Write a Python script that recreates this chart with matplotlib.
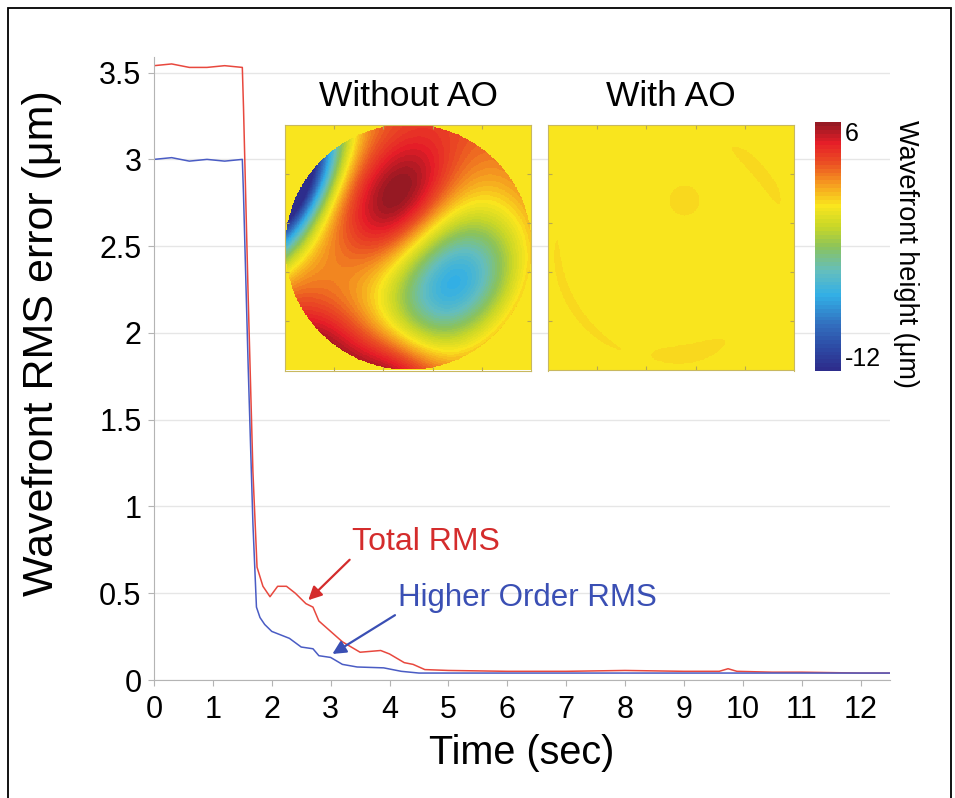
import numpy as np
import matplotlib
matplotlib.use("Agg")
from matplotlib import pyplot as plt
from matplotlib.colors import LinearSegmentedColormap
from matplotlib.patches import Rectangle

plt.rcParams['font.family'] = ['Liberation Sans', 'DejaVu Sans']

# RMS traces (time in s, RMS in um)
total_t = [0, 0.3, 0.6, 0.9, 1.2, 1.5, 1.52, 1.6, 1.68, 1.75, 1.85, 1.97, 2.1, 2.25, 2.4, 2.58,
           2.7, 2.8, 3.0, 3.2, 3.5, 3.85, 4.0, 4.25, 4.4, 4.6, 5.0, 6.0, 7.0, 8.0, 9.0,
           9.6, 9.75, 9.9, 10.5, 11.0, 12.0, 12.5]
total_rms = [3.54, 3.55, 3.53, 3.53, 3.54, 3.53, 3.3, 2.2, 1.2, 0.65, 0.54, 0.48, 0.54, 0.54, 0.50, 0.44,
             0.42, 0.34, 0.28, 0.22, 0.16, 0.17, 0.15, 0.10, 0.09, 0.06, 0.055, 0.05, 0.05, 0.055, 0.05,
             0.05, 0.065, 0.05, 0.045, 0.045, 0.04, 0.04]

hoa_t = [0, 0.3, 0.6, 0.9, 1.2, 1.5, 1.52, 1.6, 1.68, 1.74, 1.8, 1.88, 2.0, 2.3, 2.5, 2.7,
         2.8, 3.0, 3.2, 3.45, 3.9, 4.2, 4.5, 5.0, 7.0, 9.0, 10.0, 11.0, 12.0, 12.5]
hoa_rms = [3.0, 3.01, 2.99, 3.0, 2.99, 3.0, 2.8, 1.8, 0.9, 0.42, 0.36, 0.32, 0.28, 0.24, 0.19, 0.18,
           0.14, 0.13, 0.09, 0.075, 0.07, 0.05, 0.04, 0.04, 0.04, 0.04, 0.04, 0.04, 0.04, 0.04]

y_ticks = [0, 0.5, 1, 1.5, 2, 2.5, 3, 3.5]
y_labels = ['0', '0.5', '1', '1.5', '2', '2.5', '3', '3.5']
x_ticks = list(range(13))

# wavefront without AO: rim height plus elliptical lobes
rim_height = 2.0
lobe_x = [-0.10, 0.38, -1.0, -0.75, -0.15]
lobe_y = [0.40, -0.30, 0.48, -0.85, -1.10]
lobe_long = [0.42, 0.42, 0.50, 0.30, 0.28]
lobe_short = [0.27, 0.30, 0.20, 0.30, 0.28]
lobe_ang = [55, 50, 63, 0, 0]
lobe_amp = [5.8, -7.0, -20.0, 3.5, 3.8]

# residual after AO: small dot and faint arcs near the pupil rim
dot_x, dot_y, dot_r = 0.11, 0.38, 0.08
arc_r = [0.95, 0.93, 0.88]
arc_theta = [40, 210, 280]
arc_span = [12, 22, 13]
arc_width = [0.04, 0.025, 0.05]
residual_amp = 0.3

# colour bar stops (-12 .. 6 um)
cbar_min, cbar_max = -12, 6
stop_pos = [0, 0.09, 0.18, 0.30, 0.40, 0.50, 0.58, 0.667, 0.76, 0.84, 0.92, 1.0]
stop_col = ['#2d2d8c', '#2d4ba5', '#326ebe', '#32afe6', '#64bebe', '#8cc35a',
            '#c8d728', '#fae61e', '#f59620', '#eb5023', '#e61e28', '#961923']

red = '#e8483e'
blue = '#4a5cc4'

n = 400
g = np.linspace(-1, 1, n)
xx, yy = np.meshgrid(g, g)
rr = np.hypot(xx, yy)
th = np.degrees(np.arctan2(yy, xx)) % 360
inside = rr <= 1

w_before = rim_height * rr ** 2
for x0, y0, l, s, ang, a in zip(lobe_x, lobe_y, lobe_long, lobe_short, lobe_ang, lobe_amp):
    t = np.deg2rad(ang)
    u = (xx - x0) * np.cos(t) + (yy - y0) * np.sin(t)
    v = -(xx - x0) * np.sin(t) + (yy - y0) * np.cos(t)
    w_before += a * np.exp(-0.5 * ((u / l) ** 2 + (v / s) ** 2))
w_before[~inside] = 0

w_after = residual_amp * np.exp(-0.5 * ((xx - dot_x) ** 2 + (yy - dot_y) ** 2) / dot_r ** 2)
for r0, t0, span, wd in zip(arc_r, arc_theta, arc_span, arc_width):
    dth = (th - t0 + 180) % 360 - 180
    w_after += residual_amp * np.exp(-0.5 * (((rr - r0) / wd) ** 2 + (dth / span) ** 2))
w_after[~inside] = 0

cmap = LinearSegmentedColormap.from_list('wf', list(zip(stop_pos, stop_col)), N=64)

fig = plt.figure(figsize=(9.55, 7.98), dpi=100)
ax = fig.add_axes([154 / 955, 1 - 680 / 798, (890 - 154) / 955, (680 - 57) / 798])

ax.plot(total_t, total_rms, color=red, lw=1.1)
ax.plot(hoa_t, hoa_rms, color=blue, lw=1.1)

ax.set_xlim(0, 12.5)
ax.set_ylim(0, 3.59)
ax.set_xticks(x_ticks)
ax.set_yticks(y_ticks)
ax.set_yticklabels(y_labels)
ax.grid(axis='y', color='#e6e6e6', lw=1)
ax.set_axisbelow(True)
for side in ['top', 'right']:
    ax.spines[side].set_visible(False)
for side in ['left', 'bottom']:
    ax.spines[side].set_color('#b4b4b4')
ax.tick_params(colors='#b4b4b4', labelcolor='black', labelsize=22, length=4)
ax.tick_params(axis='x', pad=7)
ax.tick_params(axis='y', pad=5)
ax.set_xlabel('Time (sec)', fontsize=28.5, labelpad=6)
ax.set_ylabel('Wavefront RMS error (\u03bcm)', fontsize=31)
ax.yaxis.set_label_coords(-0.125, 0.54)

ax.annotate('Total RMS', xy=(2.62, 0.46), xytext=(3.37, 0.795), color='#d42c2c', fontsize=23,
            va='center', ha='left',
            arrowprops=dict(arrowstyle='-|>', color='#d42c2c', lw=1.6, mutation_scale=20,
                            relpos=(0, 0), shrinkA=0, shrinkB=0))
ax.annotate('Higher Order RMS', xy=(3.03, 0.15), xytext=(4.14, 0.47), color='#3a4fb4', fontsize=22.5,
            va='center', ha='left',
            arrowprops=dict(arrowstyle='-|>', color='#3a4fb4', lw=1.6, mutation_scale=20,
                            relpos=(0, 0), shrinkA=0, shrinkB=0))

# wavefront maps
maps = [(285, w_before, 'Without AO'), (548, w_after, 'With AO')]
for left, field, title in maps:
    iax = fig.add_axes([left / 955, 1 - 371 / 798, 246 / 955, 247 / 798])
    img = iax.imshow(field, origin='lower', extent=[-1, 1, -1, 1], cmap=cmap,
                     vmin=cbar_min, vmax=cbar_max, interpolation='nearest')
    iax.set_xticks(np.linspace(-1, 1, 6)[1:-1])
    iax.set_yticks(np.linspace(-1, 1, 6)[1:-1])
    iax.tick_params(direction='in', length=3, colors='#b8a850', labelleft=False, labelbottom=False,
                    top=True, right=True)
    for sp in iax.spines.values():
        sp.set_color('#c8b860')
        sp.set_linewidth(0.8)
    fig.text((left + 123) / 955, 1 - 97 / 798, title, fontsize=25.5, ha='center', va='center')

cax = fig.add_axes([815 / 955, 1 - 371 / 798, 26 / 955, 249 / 798])
cbar = fig.colorbar(img, cax=cax, ticks=[cbar_max, cbar_min])
cbar.outline.set_visible(False)
cbar.ax.set_yticklabels(['6', '-12'])
cbar.ax.tick_params(length=0, labelsize=18, pad=3)
labels = cbar.ax.get_yticklabels()
labels[0].set_va('top')
labels[1].set_va('bottom')
fig.text(906 / 955, 1 - 254 / 798, 'Wavefront height (\u03bcm)', rotation=-90, fontsize=19.5,
         ha='center', va='center')

fig.patches.append(Rectangle((8 / 955, -0.02), (951 - 8) / 955, 1.02 - 8 / 798,
                             transform=fig.transFigure, fill=False, ec='black', lw=1.3))

fig.savefig('out.png', dpi=100)
